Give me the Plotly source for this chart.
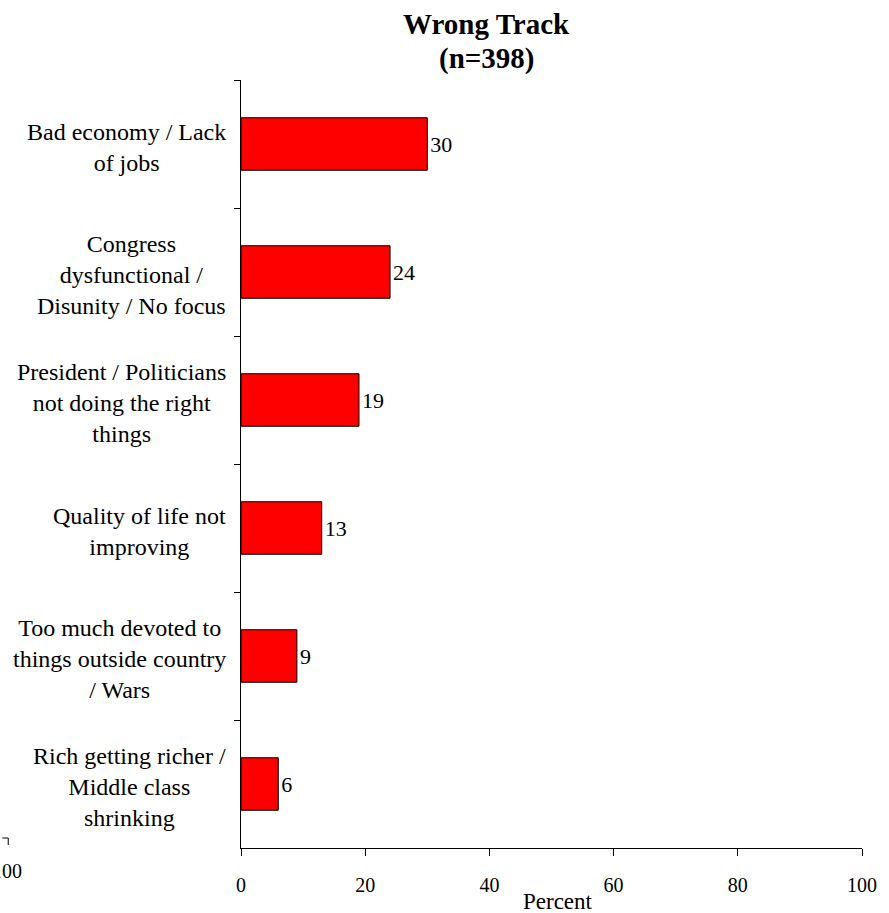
import plotly.graph_objects as go

categories = [
    "Bad economy / Lack<br>of jobs",
    "Congress<br>dysfunctional /<br>Disunity / No focus",
    "President / Politicians<br>not doing the right<br>things",
    "Quality of life not<br>improving",
    "Too much devoted to<br>things outside country<br>/ Wars",
    "Rich getting richer /<br>Middle class<br>shrinking",
]
values = [30, 24, 19, 13, 9, 6]
x_ticks = [0, 20, 40, 60, 80, 100]
title_lines = ["Wrong Track", "(n=398)"]
axis_title = "Percent"

FONT = "Liberation Serif, Times New Roman, serif"
W, H = 889, 913
L, R, T, B = 241, 21, 80, 65
PW, PH = W - L - R, H - T - B

fig = go.Figure()
fig.add_trace(go.Bar(
    y=categories, x=values, orientation="h",
    marker=dict(color="#FF0000", line=dict(color="#000000", width=1)),
    width=0.41,
    text=[str(v) for v in values], textposition="outside",
    textfont=dict(family=FONT, size=22, color="#000000"),
    cliponaxis=False,
))

annotations = []
for c in categories:
    annotations.append(dict(
        x=0, xref="paper", y=c, yref="y", text=c, showarrow=False,
        xanchor="right", align="center", xshift=-13, yshift=-3,
        font=dict(family=FONT, size=24, color="#000000"),
    ))
for i, line in enumerate(title_lines):
    annotations.append(dict(
        x=(489 - L) / PW, xref="paper", y=1, yref="paper",
        yshift=(T - 24) - i * 34,
        text="<b>" + line + "</b>", showarrow=False,
        xanchor="center", yanchor="middle",
        font=dict(family=FONT, size=29, color="#000000"),
    ))
annotations.append(dict(
    x=(561 - L) / PW, xref="paper", y=0, yref="paper", yshift=-(901 - (H - B)),
    text=axis_title, showarrow=False, xanchor="center", yanchor="middle",
    font=dict(family=FONT, size=23, color="#000000"),
))
# fragment of a neighbouring chart at bottom-left
annotations.append(dict(
    x=(5 - L) / PW, xref="paper", y=0, yref="paper", yshift=-(871 - (H - B)),
    text="100", showarrow=False, xanchor="center", yanchor="middle",
    font=dict(family=FONT, size=20, color="#000000"),
))

fig.update_layout(
    width=W, height=H,
    margin=dict(l=L, r=R, t=T, b=B),
    paper_bgcolor="white", plot_bgcolor="white",
    showlegend=False,
    annotations=annotations,
    shapes=[
        dict(type="line", xref="paper", yref="paper",
             x0=(0 - L) / PW, x1=(6 - L) / PW,
             y0=(H - B - 838) / PH, y1=(H - B - 838) / PH,
             line=dict(color="#000000", width=1)),
        dict(type="line", xref="paper", yref="paper",
             x0=(6 - L) / PW, x1=(6 - L) / PW,
             y0=(H - B - 838) / PH, y1=(H - B - 845) / PH,
             line=dict(color="#000000", width=1)),
    ],
    xaxis=dict(
        range=[0, 100], tickvals=x_ticks, ticktext=[str(t) for t in x_ticks],
        showline=True, linecolor="#000000", linewidth=1,
        ticks="outside", ticklen=7, tickcolor="#000000",
        ticklabelstandoff=12,
        showgrid=False, zeroline=False,
        tickfont=dict(family=FONT, size=20, color="#000000"),
    ),
    yaxis=dict(
        categoryorder="array", categoryarray=categories,
        autorange="reversed",
        showline=True, linecolor="#000000", linewidth=1,
        ticks="outside", ticklen=6, tickcolor="#000000", tickson="boundaries",
        showticklabels=False, showgrid=False, zeroline=False,
    ),
)

fig.write_html(
    "out.html",
    config={"displayModeBar": False},
    post_script="document.body.style.margin='0';document.body.style.overflow='hidden';",
)
